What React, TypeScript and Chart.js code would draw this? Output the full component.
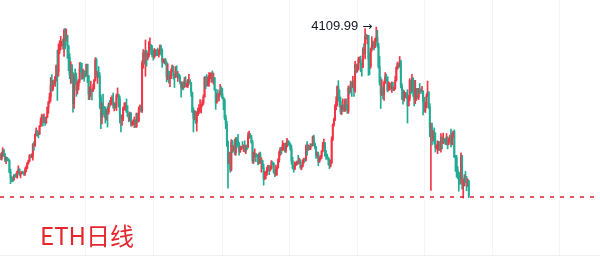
import React, { useEffect, useRef } from 'react';
import { Chart, registerables } from 'chart.js';

Chart.register(...registerables);

// ETH daily candles, 2024-01-14 .. 2025-03-09 (open of each day = previous close)
const FIRST_OPEN = 2525;

const closes: number[] = [
  // 2024 Jan (14-31)
  2472, 2512, 2587, 2528, 2467, 2490, 2470, 2453, 2312, 2242, 2235, 2218, 2268, 2267, 2257, 2316, 2345, 2283,
  // Feb
  2303, 2309, 2296, 2290, 2330, 2370, 2423, 2448, 2514, 2500, 2500, 2658, 2640, 2778, 2824, 2800, 2785, 2881, 2945, 3015, 2965, 2970, 2922, 2992, 3112, 3177, 3243, 3384, 3340,
  // Mar
  3434, 3420, 3488, 3630, 3553, 3817, 3868, 3880, 3912, 3880, 4065, 3980, 4005, 3880, 3735, 3520, 3642, 3515, 3160, 3510, 3490, 3330, 3380, 3450, 3590, 3585, 3480, 3560, 3510, 3505, 3645,
  // Apr
  3505, 3280, 3310, 3330, 3320, 3352, 3455, 3700, 3505, 3545, 3505, 3240, 3005, 3155, 3100, 3085, 2985, 3065, 3055, 3155, 3150, 3200, 3220, 3140, 3155, 3130, 3255, 3265, 3215, 3015,
  // May
  2975, 2985, 3100, 3115, 3135, 3065, 3005, 2975, 3035, 2910, 2910, 2930, 2950, 2880, 3035, 2945, 3090, 3120, 3070, 3660, 3790, 3735, 3780, 3725, 3750, 3825, 3890, 3840, 3765, 3745, 3760,
  // Jun
  3815, 3780, 3765, 3810, 3865, 3815, 3680, 3680, 3705, 3665, 3495, 3560, 3470, 3480, 3565, 3620, 3510, 3485, 3560, 3515, 3520, 3490, 3420, 3355, 3395, 3370, 3445, 3380, 3380, 3435,
  // Jul
  3440, 3420, 3295, 3060, 2980, 3065, 2930, 3020, 3065, 3100, 3100, 3135, 3175, 3245, 3485, 3445, 3390, 3425, 3505, 3515, 3535, 3440, 3480, 3335, 3175, 3275, 3250, 3270, 3320, 3280, 3230,
  // Aug
  3205, 2985, 2905, 2685, 2420, 2460, 2345, 2685, 2600, 2610, 2555, 2725, 2705, 2660, 2570, 2595, 2615, 2610, 2635, 2575, 2630, 2620, 2760, 2765, 2745, 2680, 2455, 2525, 2530, 2525, 2515,
  // Sep
  2425, 2540, 2425, 2450, 2365, 2225, 2270, 2300, 2360, 2390, 2340, 2360, 2435, 2420, 2315, 2290, 2340, 2370, 2465, 2560, 2610, 2580, 2645, 2650, 2580, 2630, 2700, 2680, 2655, 2600,
  // Oct
  2450, 2365, 2350, 2415, 2415, 2440, 2425, 2440, 2370, 2385, 2440, 2475, 2470, 2630, 2605, 2610, 2605, 2645, 2640, 2745, 2665, 2620, 2525, 2535, 2440, 2480, 2510, 2570, 2640, 2665, 2520,
  // Nov
  2515, 2495, 2460, 2395, 2425, 2720, 2895, 2960, 3130, 3180, 3370, 3245, 3185, 3060, 3105, 3130, 3075, 3205, 3110, 3070, 3355, 3325, 3395, 3360, 3415, 3325, 3650, 3580, 3590, 3705,
  // Dec
  3705, 3645, 3615, 3835, 3785, 4000, 3995, 4005, 3710, 3630, 3835, 3880, 3905, 3870, 3960, 3985, 3880, 3620, 3420, 3280, 3330, 3280, 3420, 3495, 3490, 3330, 3335, 3395, 3350, 3355, 3330,
  // 2025 Jan
  3355, 3450, 3605, 3655, 3635, 3685, 3380, 3325, 3220, 3265, 3280, 3265, 3135, 3225, 3450, 3305, 3475, 3310, 3215, 3280, 3325, 3240, 3340, 3325, 3310, 3315, 3180, 3080, 3110, 3250, 3300,
  // Feb
  3125, 2870, 2880, 2730, 2785, 2690, 2615, 2630, 2630, 2660, 2600, 2740, 2675, 2725, 2695, 2660, 2745, 2670, 2715, 2740, 2660, 2760, 2815, 2500, 2490, 2340, 2310, 2240,
  // Mar (1-9)
  2215, 2520, 2160, 2175, 2240, 2200, 2140, 2200, 2020,
];

const highs: number[] = [
  2540, 2555, 2614, 2590, 2545, 2500, 2495, 2480, 2465, 2350, 2260, 2245, 2282, 2280, 2300, 2325, 2390, 2355,
  2310, 2320, 2325, 2310, 2365, 2390, 2430, 2460, 2530, 2525, 2540, 2665, 2690, 2785, 2860, 2830, 2810, 2890, 2985, 3030, 3000, 3035, 2990, 3000, 3120, 3190, 3290, 3485, 3520,
  3450, 3455, 3500, 3640, 3825, 3900, 3940, 3995, 3935, 3965, 4085, 4093, 4085, 4010, 3880, 3780, 3680, 3615, 3550, 3530, 3590, 3540, 3430, 3460, 3670, 3670, 3660, 3590, 3570, 3565, 3650,
  3650, 3510, 3370, 3440, 3340, 3400, 3460, 3730, 3725, 3560, 3620, 3545, 3270, 3175, 3280, 3125, 3120, 3095, 3125, 3170, 3200, 3240, 3260, 3290, 3175, 3170, 3280, 3355, 3280, 3255,
  3025, 3015, 3120, 3170, 3175, 3220, 3135, 3035, 3055, 3050, 2945, 2960, 2995, 2960, 3045, 3040, 3120, 3145, 3140, 3690, 3830, 3815, 3950, 3820, 3790, 3930, 3977, 3890, 3880, 3825, 3845,
  3830, 3830, 3850, 3830, 3890, 3885, 3840, 3715, 3715, 3720, 3680, 3655, 3565, 3515, 3590, 3640, 3625, 3530, 3620, 3630, 3560, 3530, 3510, 3430, 3430, 3420, 3485, 3495, 3410, 3460,
  3525, 3460, 3420, 3305, 3110, 3075, 3070, 3050, 3105, 3150, 3210, 3150, 3205, 3270, 3495, 3500, 3520, 3490, 3545, 3540, 3545, 3565, 3540, 3485, 3340, 3285, 3330, 3285, 3400, 3370, 3350,
  3240, 3220, 3020, 2945, 2700, 2560, 2555, 2715, 2705, 2640, 2720, 2740, 2740, 2780, 2680, 2635, 2630, 2690, 2650, 2700, 2645, 2650, 2800, 2820, 2790, 2765, 2705, 2560, 2600, 2545, 2530,
  2530, 2550, 2560, 2490, 2460, 2410, 2315, 2325, 2375, 2400, 2390, 2390, 2455, 2440, 2425, 2330, 2400, 2375, 2480, 2575, 2615, 2620, 2700, 2670, 2670, 2670, 2730, 2705, 2690, 2665,
  2640, 2495, 2400, 2440, 2430, 2450, 2520, 2485, 2465, 2400, 2465, 2485, 2480, 2650, 2690, 2650, 2640, 2665, 2660, 2760, 2770, 2670, 2630, 2560, 2560, 2500, 2520, 2580, 2680, 2720, 2680,
  2580, 2535, 2490, 2475, 2460, 2750, 2910, 2980, 3150, 3245, 3380, 3445, 3330, 3240, 3140, 3220, 3150, 3220, 3220, 3150, 3380, 3365, 3440, 3430, 3500, 3440, 3685, 3650, 3645, 3735,
  3740, 3750, 3660, 3855, 3905, 4090, 4020, 4010, 4005, 3790, 3850, 3990, 3935, 3935, 3970, 4109.99, 4070, 3910, 3745, 3490, 3460, 3365, 3440, 3545, 3525, 3475, 3430, 3420, 3410, 3430, 3425,
  3370, 3500, 3620, 3675, 3660, 3745, 3700, 3410, 3335, 3320, 3300, 3300, 3335, 3260, 3470, 3450, 3525, 3480, 3450, 3450, 3350, 3350, 3350, 3410, 3345, 3375, 3320, 3240, 3180, 3280, 3440,
  3310, 3160, 2920, 2920, 2825, 2860, 2800, 2650, 2700, 2690, 2690, 2790, 2750, 2795, 2730, 2720, 2790, 2750, 2725, 2770, 2845, 2790, 2820, 2835, 2520, 2520, 2380, 2300,
  2270, 2550, 2520, 2215, 2280, 2320, 2260, 2230, 2210,
];

const lows: number[] = [
  2470, 2460, 2500, 2510, 2440, 2415, 2450, 2450, 2300, 2168, 2195, 2190, 2208, 2250, 2245, 2235, 2300, 2270,
  2240, 2290, 2290, 2270, 2270, 2315, 2355, 2410, 2440, 2490, 2490, 2460, 2580, 2630, 2760, 2760, 2735, 2775, 2875, 2900, 2880, 2925, 2890, 2915, 2985, 3040, 3165, 3190, 3310,
  3320, 3390, 3375, 3440, 3200, 3500, 3780, 3830, 3880, 3835, 3745, 3840, 3935, 3720, 3570, 3470, 3410, 3420, 3055, 3100, 3400, 3250, 3280, 3330, 3420, 3550, 3460, 3470, 3440, 3490, 3500,
  3420, 3210, 3210, 3250, 3205, 3310, 3340, 3440, 3490, 3410, 3480, 3100, 2850, 2910, 3025, 2990, 2920, 2955, 2870, 3030, 3120, 3140, 3185, 3105, 3070, 3100, 3075, 3240, 3115, 2920,
  2810, 2890, 2950, 3085, 3075, 3050, 2998, 2935, 2945, 2880, 2885, 2900, 2865, 2865, 2865, 2925, 2935, 3090, 3055, 3050, 3600, 3650, 3500, 3625, 3700, 3735, 3840, 3770, 3740, 3700, 3725,
  3750, 3755, 3755, 3735, 3780, 3760, 3610, 3670, 3655, 3640, 3430, 3455, 3415, 3370, 3470, 3555, 3465, 3360, 3485, 3495, 3435, 3470, 3405, 3240, 3340, 3330, 3360, 3370, 3365, 3360,
  3420, 3400, 3250, 3050, 2810, 2960, 2915, 2820, 3010, 3035, 3055, 3045, 3130, 3150, 3240, 3345, 3375, 3380, 3375, 3470, 3425, 3425, 3400, 3325, 3090, 3165, 3190, 3195, 3290, 3245, 3225,
  3085, 2960, 2850, 2630, 2111, 2420, 2310, 2325, 2555, 2570, 2525, 2520, 2610, 2635, 2520, 2555, 2590, 2605, 2565, 2560, 2540, 2590, 2610, 2730, 2740, 2670, 2420, 2420, 2500, 2440, 2500,
  2400, 2415, 2420, 2310, 2355, 2150, 2220, 2230, 2275, 2325, 2280, 2325, 2350, 2400, 2295, 2255, 2270, 2275, 2360, 2435, 2520, 2535, 2580, 2590, 2560, 2555, 2625, 2645, 2635, 2580,
  2410, 2350, 2310, 2345, 2390, 2400, 2410, 2415, 2350, 2340, 2375, 2420, 2440, 2450, 2520, 2580, 2590, 2590, 2630, 2635, 2640, 2600, 2480, 2500, 2390, 2430, 2460, 2480, 2560, 2625, 2505,
  2470, 2480, 2400, 2355, 2375, 2420, 2700, 2880, 2950, 3085, 3130, 3205, 3120, 3030, 3025, 3085, 3060, 3065, 3085, 3040, 3040, 3280, 3300, 3250, 3370, 3250, 3300, 3540, 3550, 3575,
  3670, 3555, 3500, 3605, 3770, 3715, 3960, 3900, 3510, 3520, 3600, 3810, 3845, 3825, 3855, 3925, 3860, 3600, 3390, 3100, 3260, 3220, 3200, 3410, 3440, 3305, 3320, 3330, 3345, 3300, 3325,
  3320, 3340, 3440, 3585, 3600, 3615, 3355, 3210, 3155, 3190, 3235, 3225, 2920, 3130, 3195, 3280, 3305, 3250, 3130, 3160, 3200, 3225, 3210, 3295, 3285, 3310, 3020, 3060, 3050, 3110, 3270,
  3100, 2750, 2085, 2650, 2700, 2660, 2560, 2595, 2540, 2580, 2580, 2560, 2600, 2665, 2680, 2655, 2650, 2600, 2650, 2690, 2625, 2650, 2740, 2490, 2320, 2250, 2230, 2075,
  2160, 2170, 2100, 1990, 2140, 2180, 2080, 2135, 1995,
];

// horizontal support level (dashed) and vertical grid positions (in candle-index units)
const SUPPORT_LEVEL = 2000;
const GRID_TICKS = [76, 137, 199, 259, 320, 380, 441, 501];
const TITLE = 'ETH日线';

const UP_COLOR = '#f23645';
const DOWN_COLOR = '#22ab94';
const DASH_COLOR = '#e01e2c';

export default function App() {
  const ref = useRef<HTMLCanvasElement | null>(null);

  useEffect(() => {
    if (!ref.current) return;
    const opens = closes.map((_, i) => (i === 0 ? FIRST_OPEN : closes[i - 1]));
    const colors = closes.map((c, i) => (c >= opens[i] ? UP_COLOR : DOWN_COLOR));
    const wicks = closes.map((c, i) => ({
      x: i,
      y: [Math.min(lows[i], opens[i], c), Math.max(highs[i], opens[i], c)],
    }));
    const bodies = closes.map((c, i) => ({ x: i, y: [opens[i], c] }));

    const overlay = {
      id: 'overlay',
      afterDatasetsDraw(chart: any) {
        const { ctx, chartArea, scales } = chart;
        const xs = scales.x;
        const ys = scales.y;
        ctx.save();
        // dashed support line
        const yy = Math.round(ys.getPixelForValue(SUPPORT_LEVEL));
        ctx.strokeStyle = DASH_COLOR;
        ctx.lineWidth = 1.5;
        ctx.setLineDash([4, 6]);
        ctx.beginPath();
        ctx.moveTo(chartArea.left, yy);
        ctx.lineTo(chartArea.right, yy);
        ctx.stroke();
        ctx.setLineDash([]);
        // highest-high marker
        let hi = 0;
        highs.forEach((h, i) => {
          if (h > highs[hi]) hi = i;
        });
        const px = xs.getPixelForValue(hi);
        const py = ys.getPixelForValue(highs[hi]);
        ctx.fillStyle = '#131722';
        ctx.textAlign = 'right';
        ctx.textBaseline = 'middle';
        ctx.font = '12px "DejaVu Sans", sans-serif';
        ctx.fillText('\u2192', px - 4, py);
        ctx.font = '13px "Liberation Sans", Arial, sans-serif';
        ctx.fillText(highs[hi].toFixed(2), px - 18, py - 1);
        ctx.restore();
      },
    };

    const chart = new Chart(ref.current, {
      type: 'bar',
      data: {
        datasets: [
          {
            data: wicks as any,
            backgroundColor: colors,
            barThickness: 1,
            grouped: false,
          } as any,
          {
            data: bodies as any,
            backgroundColor: colors,
            barThickness: 1.3,
            minBarLength: 1,
            grouped: false,
          } as any,
        ],
      },
      options: {
        responsive: false,
        animation: false,
        devicePixelRatio: 1,
        layout: { padding: { left: 0, right: 0, top: 0, bottom: 3 } },
        plugins: { legend: { display: false }, tooltip: { enabled: false } },
        scales: {
          x: {
            type: 'linear',
            min: -0.45,
            max: 537.65,
            offset: false,
            grid: { color: 'rgba(0,0,0,0.045)', offset: false, drawTicks: false },
            border: { display: true, color: 'rgba(0,0,0,0.06)' },
            ticks: { display: false },
            afterBuildTicks: (axis: any) => {
              axis.ticks = GRID_TICKS.map((v) => ({ value: v }));
            },
          },
          y: { type: 'linear', min: 1284, max: 4445, display: false },
        },
      } as any,
      plugins: [overlay],
    });
    return () => chart.destroy();
  }, []);

  return (
    <div style={{ position: 'fixed', left: 0, top: 0, width: 600, height: 258, background: '#fff', overflow: 'hidden' }}>
      <canvas ref={ref} width={600} height={258} style={{ display: 'block' }} />
      <div
        style={{
          position: 'absolute',
          left: 40,
          top: 223,
          fontSize: 24,
          lineHeight: 1,
          color: '#e5262f',
          fontFamily: '"Noto Sans CJK SC", "Noto Sans", sans-serif',
          whiteSpace: 'nowrap',
        }}
      >
        {TITLE}
      </div>
    </div>
  );
}
